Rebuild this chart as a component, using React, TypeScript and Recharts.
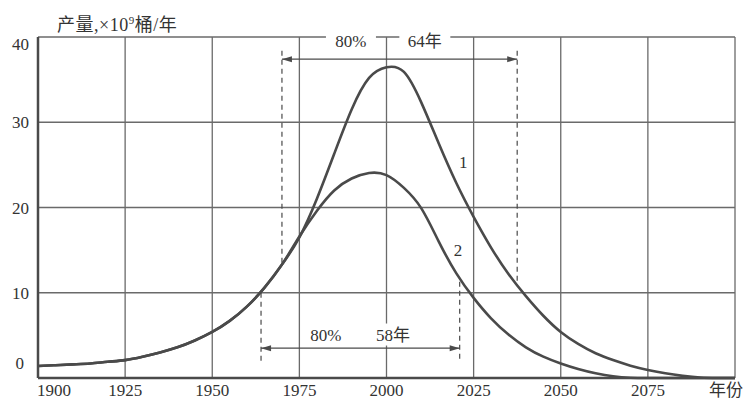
import { CartesianGrid, Line, LineChart, ReferenceDot, ReferenceLine, XAxis, YAxis } from "recharts";

const years = [
  1900, 1905, 1910, 1915, 1920, 1925, 1930, 1935, 1940, 1945, 1950, 1955, 1960, 1965, 1970, 1975, 1980,
  1985, 1990, 1995, 2000, 2005, 2010, 2015, 2020, 2025, 2030, 2035, 2040, 2045, 2050, 2055, 2060, 2065,
  2070, 2075, 2080, 2085, 2090, 2095, 2100,
];
// curve 1
const curve1 = [
  1.4, 1.5, 1.6, 1.7, 1.9, 2.1, 2.5, 3.0, 3.6, 4.4, 5.4, 6.7, 8.4, 10.6, 13.3, 16.5, 21.0, 26.3, 31.5,
  35.2, 36.45, 35.9, 32.3, 27.5, 22.9, 18.9, 15.3, 12.2, 9.6, 7.3, 5.4, 4.0, 2.9, 2.1, 1.45, 0.95, 0.55,
  0.25, 0.05, 0, 0,
];
// curve 2
const curve2 = [
  1.4, 1.5, 1.6, 1.7, 1.9, 2.1, 2.5, 3.0, 3.6, 4.4, 5.4, 6.7, 8.4, 10.6, 13.3, 16.6, 19.6, 22.0, 23.4,
  24.05, 23.8, 22.3, 19.9, 16.0, 12.3, 9.4, 7.0, 5.1, 3.6, 2.5, 1.7, 1.05, 0.55, 0.2, 0.03, 0, 0, 0, 0, 0,
  0,
];
const xTicks = [1900, 1925, 1950, 1975, 2000, 2025, 2050, 2075, 2100];
const yTicks = [0, 10, 20, 30, 40];

// 80% spans
const span1 = { from: 1970, to: 2037.5, arrowY: 37.4, top: 38.4, fromY: 13.3, toY: 10.9 };
const span2 = { from: 1964, to: 2021, arrowY: 3.5, bottom: 1.8, fromY: 10, toY: 11.3 };

const data = years.map((year, i) => ({ year, c1: curve1[i], c2: curve2[i] }));

const FONT = "'Liberation Serif', 'Noto Sans CJK SC', serif";
const INK = "#4a4a4a";
const GRID = "#6a6a6a";

function XTick({ x, payload }: any) {
  const v = payload.value;
  const label = v === 2100 ? "年份" : String(v);
  const dx = v === 1900 ? 16 : v === 2100 ? -5 : 0;
  return (
    <text x={x + dx} y={396} textAnchor="middle" fontSize={17} fill="#333" fontFamily={FONT}>
      {label}
    </text>
  );
}

function YTick({ y, payload }: any) {
  const v = payload.value;
  const dy = v === 40 ? 7 : v === 0 ? -15 : 0;
  const ax = v === 0 ? 24 : 29;
  return (
    <text x={ax} y={y + dy + 6} textAnchor="end" fontSize={17} fill="#333" fontFamily={FONT}>
      {v}
    </text>
  );
}

function Arrow(props: any) {
  const { x1, y1, x2, y2 } = props;
  const h = 10;
  return (
    <g>
      <line x1={x1} y1={y1} x2={x2} y2={y2} stroke={INK} strokeWidth={1.3} />
      <polygon points={`${x1},${y1} ${x1 + h},${y1 - 3} ${x1 + h},${y1 + 3}`} fill={INK} />
      <polygon points={`${x2},${y2} ${x2 - h},${y2 - 3} ${x2 - h},${y2 + 3}`} fill={INK} />
    </g>
  );
}

function boxed(text: string, w: number, bg: boolean) {
  return ({ cx, cy }: any) => (
    <g>
      {bg && <rect x={cx - w / 2} y={cy - 11} width={w} height={22} fill="#fff" />}
      <text x={cx} y={cy + 6} textAnchor="middle" fontSize={17} fill="#333" fontFamily={FONT}>
        {text}
      </text>
    </g>
  );
}

export default function App() {
  return (
    <div style={{ position: "absolute", left: 0, top: 0, width: 747, height: 401, background: "#fff" }}>
      <div
        style={{
          position: "absolute",
          left: 57,
          top: 10,
          fontFamily: FONT,
          fontSize: 18,
          letterSpacing: 0.5,
          color: "#333",
          whiteSpace: "nowrap",
        }}
      >
        产量,×10<sup style={{ fontSize: 11 }}>9</sup>桶/年
      </div>
      <LineChart width={747} height={401} data={data} margin={{ top: 37, right: 12, left: 0, bottom: 0 }}>
        <CartesianGrid stroke={GRID} strokeWidth={1.3} />
        <XAxis
          dataKey="year"
          type="number"
          domain={[1900, 2100]}
          ticks={xTicks}
          height={23}
          tickLine={false}
          axisLine={{ stroke: INK, strokeWidth: 2.5 }}
          tick={<XTick />}
        />
        <YAxis
          type="number"
          domain={[0, 40]}
          ticks={yTicks}
          width={38}
          tickLine={false}
          axisLine={{ stroke: INK, strokeWidth: 2.5 }}
          tick={<YTick />}
        />
        <Line dataKey="c1" type="natural" stroke={INK} strokeWidth={2.6} dot={false} isAnimationActive={false} />
        <Line dataKey="c2" type="natural" stroke={INK} strokeWidth={2.6} dot={false} isAnimationActive={false} />

        <ReferenceLine
          segment={[{ x: span1.from, y: span1.top }, { x: span1.from, y: span1.fromY }]}
          stroke={INK}
          strokeWidth={1.2}
          strokeDasharray="5 4"
        />
        <ReferenceLine
          segment={[{ x: span1.to, y: span1.top }, { x: span1.to, y: span1.toY }]}
          stroke={INK}
          strokeWidth={1.2}
          strokeDasharray="5 4"
        />
        <ReferenceLine
          segment={[{ x: span1.from, y: span1.arrowY }, { x: span1.to, y: span1.arrowY }]}
          shape={<Arrow />}
        />
        <ReferenceLine
          segment={[{ x: span2.from, y: span2.fromY }, { x: span2.from, y: span2.bottom }]}
          stroke={INK}
          strokeWidth={1.2}
          strokeDasharray="5 4"
        />
        <ReferenceLine
          segment={[{ x: span2.to, y: span2.toY }, { x: span2.to, y: span2.bottom }]}
          stroke={INK}
          strokeWidth={1.2}
          strokeDasharray="5 4"
        />
        <ReferenceLine
          segment={[{ x: span2.from, y: span2.arrowY }, { x: span2.to, y: span2.arrowY }]}
          shape={<Arrow />}
        />

        <ReferenceDot x={1989.8} y={39.5} shape={boxed("80%", 50, true)} />
        <ReferenceDot x={2011} y={39.5} shape={boxed("64年", 51, true)} />
        <ReferenceDot x={1982.6} y={5.1} shape={boxed("80%", 36, false)} />
        <ReferenceDot x={2001.9} y={5.1} shape={boxed("58年", 40, true)} />
        <ReferenceDot x={2022} y={25.3} shape={boxed("1", 10, false)} />
        <ReferenceDot x={2020.5} y={15} shape={boxed("2", 10, false)} />
      </LineChart>
    </div>
  );
}
